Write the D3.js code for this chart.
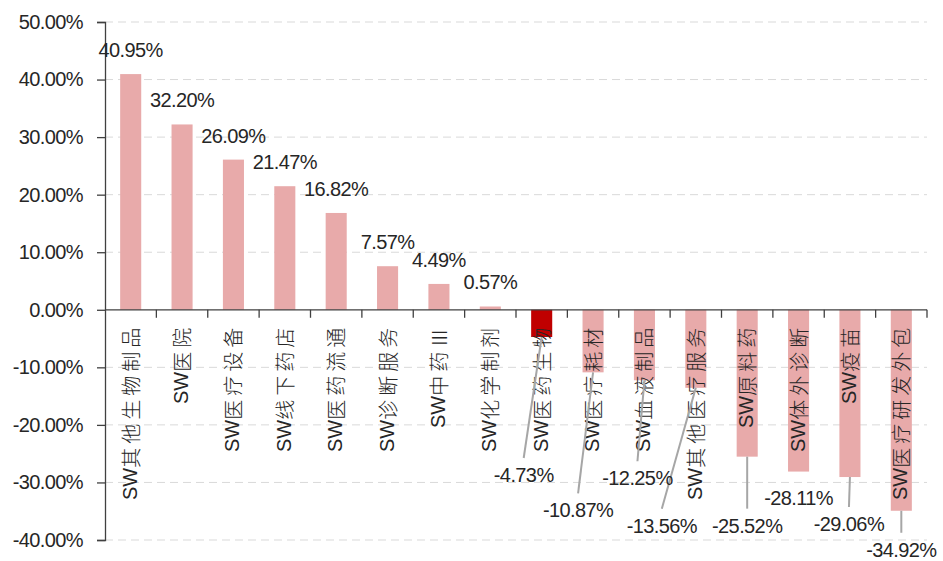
<!DOCTYPE html>
<html>
<head>
<meta charset="utf-8">
<script src="https://cdn.jsdelivr.net/npm/d3@7"></script>
<style>
  body { margin: 0; background: #fff; }
  svg { display: block; }
  text { font-family: "Liberation Sans", Arial, "Noto Sans CJK SC", sans-serif; fill: #262626; }
</style>
</head>
<body>
<div id="chart"></div>
<script>
// data
const categories = [
  "其他生物制品", "医院", "医疗设备", "线下药店", "医药流通", "诊断服务",
  "中药Ⅲ", "化学制剂", "医药生物", "医疗耗材", "血液制品", "其他医疗服务",
  "原料药", "体外诊断", "疫苗", "医疗研发外包"
];
const values = [
  40.95, 32.2, 26.09, 21.47, 16.82, 7.57, 4.49, 0.57,
  -4.73, -10.87, -12.25, -13.56, -25.52, -28.11, -29.06, -34.92
];
const highlight = "医药生物";
const yTicks = [-40, -30, -20, -10, 0, 10, 20, 30, 40, 50];

// hand placed label offsets (dx, dy from bar end), like the original chart
const labelOffsets = [
  [0, -17], [0, -17], [0, -17], [0, -17], [0, -17], [0, -17], [0, -17], [0, -17],
  [-18, 145], [-15, 145], [-7, 105], [-34, 145], [0, 76], [0, 33], [-1, 54], [0, 46]
];

const svgW = 943,
  svgH = 561,
  mLeft = 105,
  mRight = 927,
  mTop = 22,
  mBottom = 540;

// hyphen minus like the original, not d3's unicode minus
const pct = d => d.toFixed(2) + "%";

const svg = d3
  .select("#chart")
  .append("svg")
  .attr("width", svgW)
  .attr("height", svgH);

const x = d3
  .scaleBand()
  .domain(categories)
  .range([mLeft, mRight])
  .paddingInner(0.59)
  .paddingOuter(0.295);

const y = d3.scaleLinear().domain([-40, 50]).range([mBottom, mTop]);

// grid lines
svg
  .append("g")
  .selectAll("line")
  .data(yTicks.filter(d => d !== 0))
  .enter()
  .append("line")
  .attr("x1", mLeft)
  .attr("x2", mRight)
  .attr("y1", d => y(d))
  .attr("y2", d => y(d))
  .attr("stroke", "#d9d9d9")
  .attr("stroke-width", 1)
  .attr("stroke-dasharray", "8,5");

// y axis
const yAxis = svg
  .append("g")
  .attr("transform", `translate(${mLeft},0)`)
  .call(
    d3
      .axisLeft(y)
      .tickValues(yTicks)
      .tickSize(8)
      .tickPadding(14)
      .tickFormat(pct)
  );
yAxis.select(".domain").attr("stroke", "#404040").attr("stroke-width", 1.3);
yAxis.selectAll(".tick line").attr("stroke", "#404040").attr("stroke-width", 1.3);
yAxis
  .selectAll(".tick text")
  .attr("font-size", 20)
  .attr("letter-spacing", -0.6)
  .attr("font-family", "Liberation Sans, Arial, sans-serif")
  .attr("fill", "#262626");

// bars
svg
  .append("g")
  .selectAll("rect")
  .data(values)
  .enter()
  .append("rect")
  .attr("x", (d, i) => x(categories[i]))
  .attr("width", x.bandwidth())
  .attr("y", d => y(Math.max(0, d)))
  .attr("height", d => Math.abs(y(d) - y(0)))
  .attr("fill", (d, i) => (categories[i] === highlight ? "#C00000" : "#E8AAAA"));

// zero line with category ticks
svg
  .append("line")
  .attr("x1", mLeft)
  .attr("x2", mRight)
  .attr("y1", y(0))
  .attr("y2", y(0))
  .attr("stroke", "#404040")
  .attr("stroke-width", 1.3);

const boundaries = categories.map((c, i) => mLeft + x.step() * (i + 1));
svg
  .append("g")
  .selectAll("line")
  .data(boundaries)
  .enter()
  .append("line")
  .attr("x1", d => d)
  .attr("x2", d => d)
  .attr("y1", y(0))
  .attr("y2", y(0) + 8)
  .attr("stroke", "#404040")
  .attr("stroke-width", 1.3);

// category labels, rotated
const catLabels = svg
  .append("g")
  .selectAll("text")
  .data(categories)
  .enter()
  .append("text")
  .attr(
    "transform",
    d => `translate(${x(d) + x.bandwidth() / 2 - 1},${y(0) + 14}) rotate(-90)`
  )
  .attr("text-anchor", "end")
  .attr("dominant-baseline", "central")
  .attr("font-size", 20);
catLabels.append("tspan").text("SW");
catLabels
  .append("tspan")
  .attr("font-family", "Noto Sans CJK SC, sans-serif")
  .attr("font-weight", 300)
  .attr("letter-spacing", 4)
  .text(d => d);

// leader lines
const cx = i => x(categories[i]) + x.bandwidth() / 2;
svg
  .append("g")
  .selectAll("line")
  .data(values.map((v, i) => i).filter(i => labelOffsets[i][1] > 40))
  .enter()
  .append("line")
  .attr("x1", i => cx(i))
  .attr("y1", i => y(values[i]))
  .attr("x2", i => cx(i) + labelOffsets[i][0])
  .attr("y2", i => y(values[i]) + labelOffsets[i][1] - 24)
  .attr("stroke", "#a6a6a6")
  .attr("stroke-width", 2);

// value labels
svg
  .append("g")
  .selectAll("text")
  .data(values)
  .enter()
  .append("text")
  .attr("x", (d, i) => cx(i) + labelOffsets[i][0])
  .attr("y", (d, i) => y(d) + labelOffsets[i][1])
  .attr("text-anchor", "middle")
  .attr("font-size", 20)
  .attr("letter-spacing", -0.6)
  .text(pct);
</script>
</body>
</html>
